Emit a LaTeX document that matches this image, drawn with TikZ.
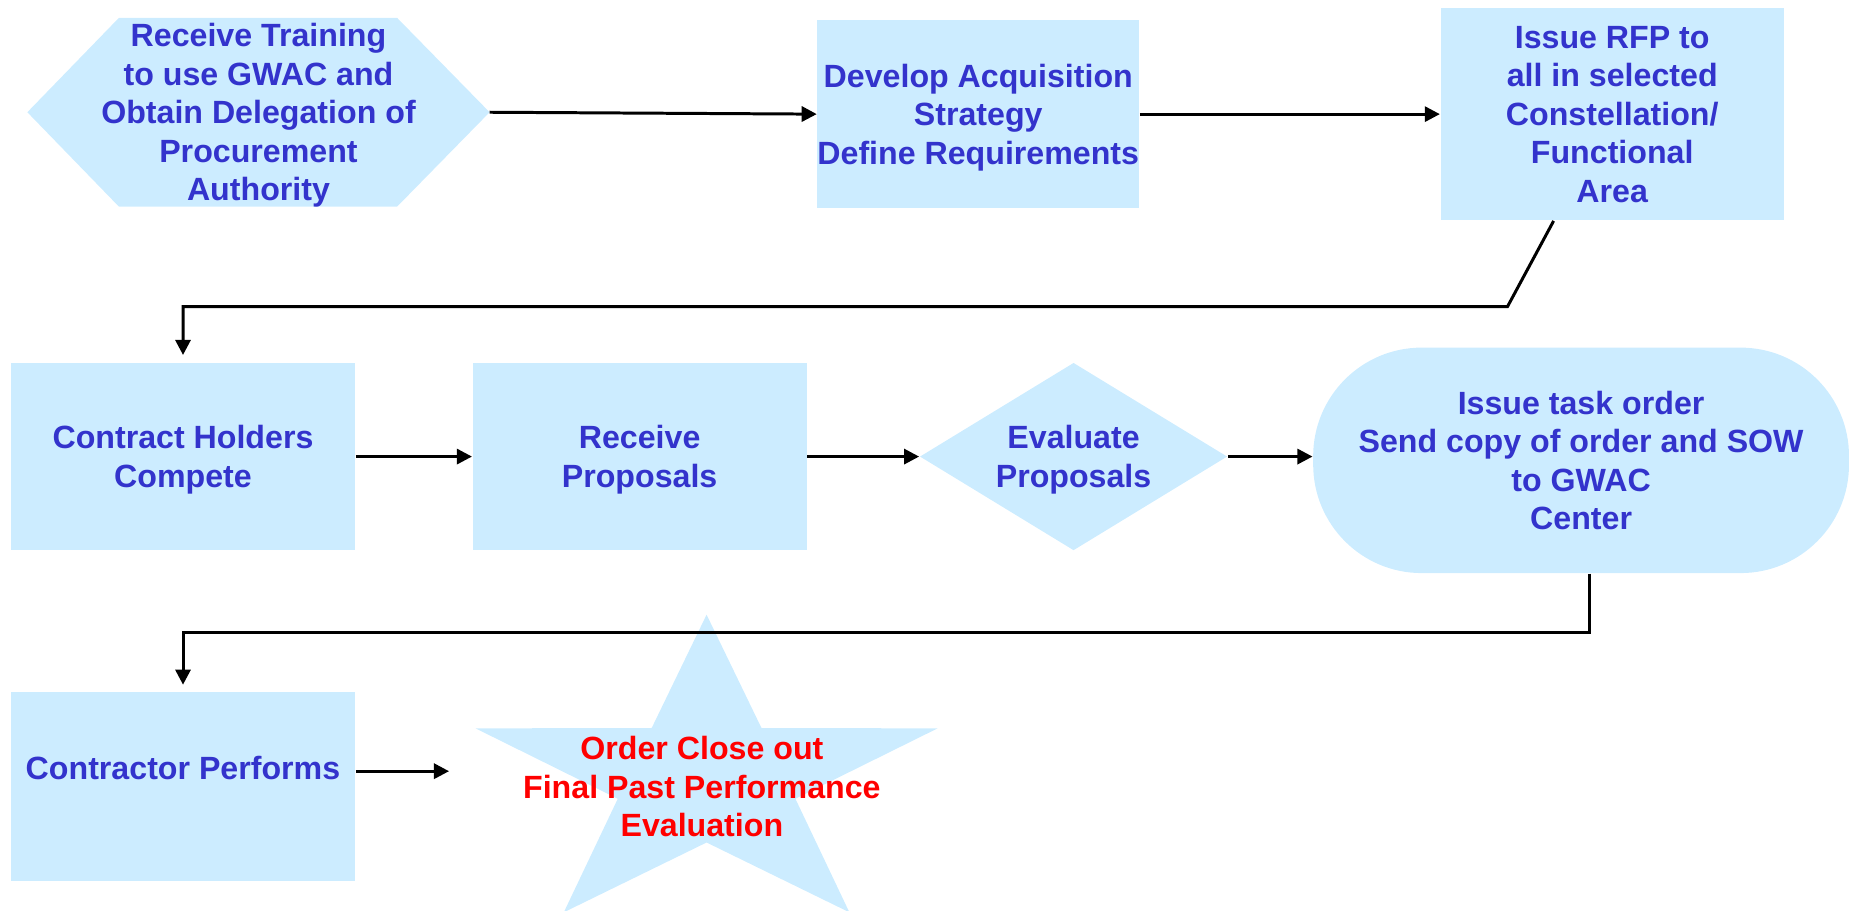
\documentclass[tikz,border=0pt]{standalone}
\usepackage{fontspec}
\setmainfont{Liberation Sans}
\usetikzlibrary{shapes.geometric,arrows.meta,calc}
\definecolor{boxblue}{HTML}{CCECFF}
\definecolor{inkblue}{HTML}{3333CC}

\begin{document}
\begin{tikzpicture}[block/.style={rectangle, fill=boxblue, text=inkblue, align=center, inner sep=0pt,
    font=\fontsize{9.7}{11.6}\selectfont\bfseries, text depth=-1.5pt},
  flow/.style={-{Triangle[length=1.6mm,width=1.6mm]}, line width=0.9pt}]
\useasboundingbox (0,0) rectangle (19.6,9.65);
\fill[boxblue] (0.29,8.46)--(1.26,9.46)--(4.21,9.46)--(5.19,8.46)--(4.21,7.46)--(1.26,7.46)--cycle;
\coordinate (traintip) at (5.19,8.46);
\node[block, fill=none] (train) at (2.74,8.46) {Receive Training\\to use GWAC and\\Obtain Delegation of\\Procurement\\Authority};
\node[block, minimum width=3.41cm, minimum height=2cm] (dev) at (10.37,8.44) {Develop Acquisition\\Strategy\\Define Requirements};
\node[block, minimum width=3.64cm, minimum height=2.25cm] (rfp) at (17.09,8.44) {Issue RFP to\\all in selected\\Constellation/\\Functional\\Area};
\node[block, minimum width=3.65cm, minimum height=1.99cm] (compete) at (1.94,4.81) {Contract Holders\\Compete};
\node[block, minimum width=3.54cm, minimum height=1.99cm] (recv) at (6.78,4.81) {Receive\\Proposals};
\node[block, diamond, aspect=1.64, minimum width=3.26cm, minimum height=1.99cm] (eval) at (11.38,4.81) {Evaluate\\Proposals};
\node[block, rounded corners=1.15cm, minimum width=5.68cm, minimum height=2.39cm] (task) at (16.76,4.77) {Issue task order\\Send copy of order and SOW\\to GWAC\\Center};
\node[block, minimum width=3.65cm, minimum height=2cm, text depth=4mm] (perf) at (1.94,1.31) {Contractor Performs};
\fill[boxblue, shift={(7.49,1.39)}] (90:2.575 and 1.744) \foreach \a in {90,162,234,306,378} {-- (\a+36:0.99 and 0.671) -- (\a+72:2.575 and 1.744)} -- cycle;
\node[block, fill=none, text=red] (closeout) at (7.44,1.31) {Order Close out\\Final Past Performance\\Evaluation};
\draw[flow] (traintip) -- (dev.west);
\draw[flow] (dev.east) -- (rfp.west);
\coordinate (bendA) at (15.98,6.4);
\draw[flow, shorten >=0.75mm] ($(rfp.south west)!0.33!(rfp.south east)$) -- (bendA) -| (compete.north);
\draw[flow] (compete.east) -- (recv.west);
\draw[flow] (recv.east) -- (eval.west);
\draw[flow] (eval.east) -- (eval.east -| task.west);
\draw[flow, shorten >=0.75mm] ([xshift=0.9mm]task.south) -- ++(0,-0.62) -| (perf.north);
\coordinate (starin) at (4.76,1.475);
\draw[flow] (perf.east |- starin) -- (starin);
\end{tikzpicture}
\end{document}
